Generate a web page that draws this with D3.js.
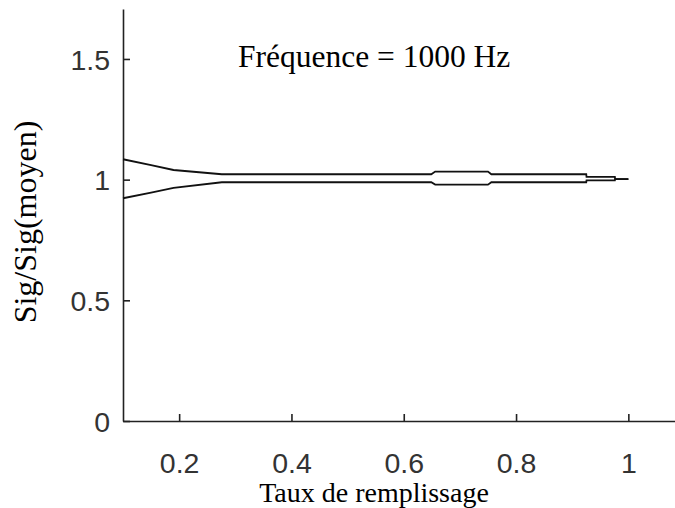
<!DOCTYPE html>
<html>
<head>
<meta charset="utf-8">
<script src="https://cdn.jsdelivr.net/npm/d3@7"></script>
<style>
  html, body { margin: 0; padding: 0; background: #fff; }
  svg { display: block; }
</style>
</head>
<body>
<script>
// ---- data ----
const fillRate = [0.1, 0.15, 0.19, 0.276, 0.649, 0.656, 0.75, 0.756, 0.925, 0.9255, 0.976, 0.9765, 1.0];
const upperEnv = [1.0845, 1.0597, 1.040, 1.0224, 1.0224, 1.0334, 1.0334, 1.0224, 1.0224, 1.0115, 1.0115, 1.002, 1.002];
const lowerEnv = [0.9229, 0.946, 0.966, 0.9892, 0.9892, 0.9793, 0.9793, 0.9892, 0.9892, 0.9967, 0.9967, 1.002, 1.002];
const xTicks = [0.2, 0.4, 0.6, 0.8, 1];
const yTicks = [0, 0.5, 1, 1.5];
const titleText = "Fréquence = 1000 Hz";
const xLabel = "Taux de remplissage";
const yLabel = "Sig/Sig(moyen)";

const W = 675, H = 508;
const svg = d3.select("body").append("svg").attr("width", W).attr("height", H);

const x = d3.scaleLinear().domain([0.1, 1.1]).range([123, 684.5]);
const y = d3.scaleLinear().domain([0, 1.707]).range([421, 9]);

const tickFont = "'Liberation Sans', Arial, sans-serif";
const serif = "'Liberation Serif', 'Times New Roman', serif";

// x axis
const gx = svg.append("g").attr("transform", `translate(0,${y(0)})`)
  .call(d3.axisBottom(x).tickValues(xTicks).tickFormat(d3.format("")).tickSizeInner(-7).tickSizeOuter(0));
// y axis
const gy = svg.append("g").attr("transform", `translate(${x(0.1)},0)`)
  .call(d3.axisLeft(y).tickValues(yTicks).tickFormat(d3.format("")).tickSizeInner(-7).tickSizeOuter(0));

[gx, gy].forEach(g => {
  g.select(".domain").attr("stroke", "#222").attr("stroke-width", 1.6);
  g.selectAll(".tick line").attr("stroke", "#222").attr("stroke-width", 1.6);
  g.selectAll(".tick text").attr("font-family", tickFont).attr("font-size", 28.5).attr("fill", "#333");
});
gx.selectAll(".tick text").attr("y", 52).attr("dy", 0);
gy.selectAll(".tick text").attr("x", -13).attr("dy", "0.36em");

// envelope lines
const data = fillRate.map((f, i) => ({ f, u: upperEnv[i], l: lowerEnv[i] }));
const lineU = d3.line().x(d => x(d.f)).y(d => y(d.u));
const lineL = d3.line().x(d => x(d.f)).y(d => y(d.l));
svg.append("path").datum(data).attr("d", lineU).attr("fill", "none").attr("stroke", "#111").attr("stroke-width", 1.8);
svg.append("path").datum(data).attr("d", lineL).attr("fill", "none").attr("stroke", "#111").attr("stroke-width", 1.8);

// texts
svg.append("text").attr("x", 238).attr("y", 67)
  .attr("font-family", serif).attr("font-size", 31.5).attr("fill", "#000").text(titleText);
svg.append("text").attr("x", 374).attr("y", 501.5).attr("text-anchor", "middle")
  .attr("font-family", serif).attr("font-size", 28).attr("fill", "#000").text(xLabel);
svg.append("text").attr("transform", "translate(36,222) rotate(-90)").attr("text-anchor", "middle")
  .attr("font-family", serif).attr("font-size", 32).attr("fill", "#000").text(yLabel);
</script>
</body>
</html>
